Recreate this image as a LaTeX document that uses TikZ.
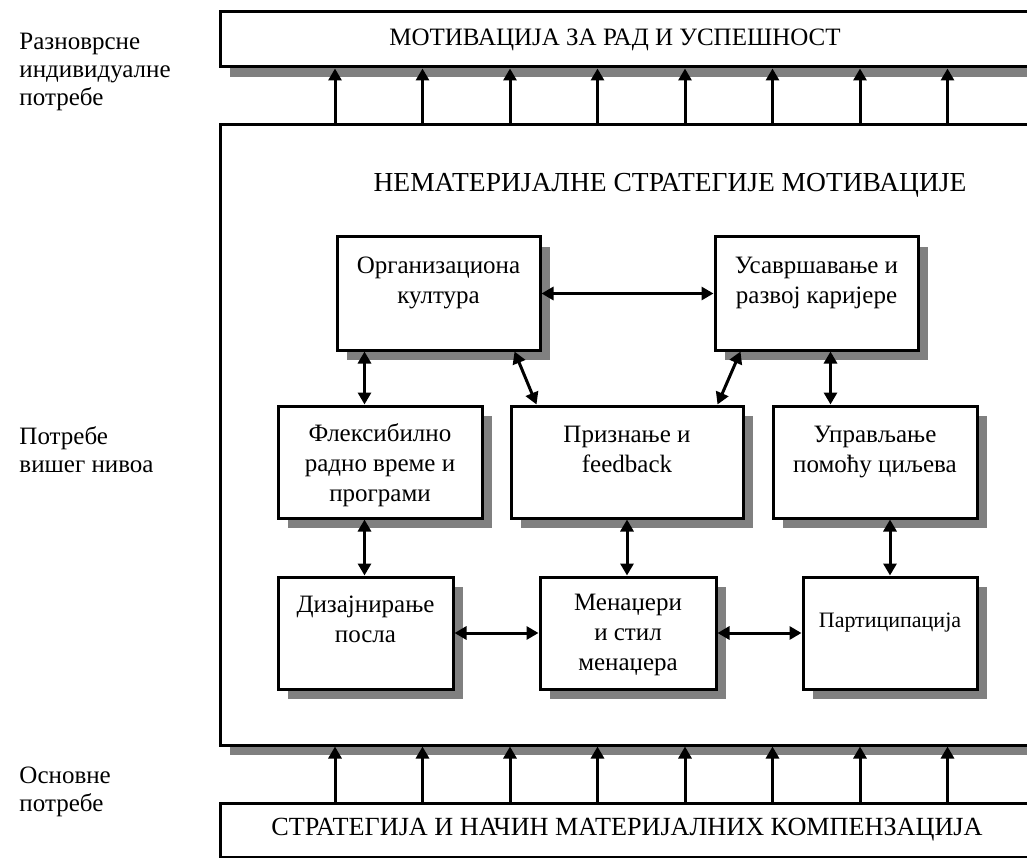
\documentclass[tikz,border=0pt]{standalone}
\usepackage{fontspec}
\setmainfont{Liberation Serif}
\usetikzlibrary{positioning,shadows,arrows.meta}

\begin{document}
\begin{tikzpicture}[>={Triangle[length=12pt,width=13pt]},line width=3pt,x=1pt,y=-1pt]
                \tikzstyle{every node}=[font=\fontsize{25}{30}\selectfont,inner sep=0pt]
                \tikzstyle{box}=[draw,fill=white,drop shadow={shadow xshift=10pt,shadow yshift=-10pt,fill=gray,opacity=1}]
                \tikzstyle{txt}=[align=center]
                \tikzstyle{side}=[align=left,anchor=north west,font=\fontsize{25}{28}\selectfont]
                \useasboundingbox (0,0) rectangle (1027,858);
                \clip (0,0) rectangle (1027,858);
                % big frames
                \node[box,minimum width=820pt,minimum height=55pt] (mot) at (630,39.5) {};
                \node[box,minimum width=820pt,minimum height=620pt] (nemat) at (630,435) {};
                \node[box,minimum width=820pt,minimum height=54pt] (strat) at (630,830) {};
                \node (mott) at (615,40) {МОТИВАЦИЈА ЗА РАД И УСПЕШНОСТ};
                \node[font=\fontsize{27.5}{30}\selectfont] (nematt) at (670,185) {НЕМАТЕРИЈАЛНЕ СТРАТЕГИЈЕ МОТИВАЦИЈЕ};
                \node[font=\fontsize{26.2}{30}\selectfont] (stratt) at (627,830) {СТРАТЕГИЈА И НАЧИН МАТЕРИЈАЛНИХ КОМПЕНЗАЦИЈА};
                \foreach \x in {335,422.5,...,947.5}
                    {
                        \coordinate (c) at (\x,0);
                        \draw[->] (nemat.north -| c)--(mot.south -| c);
                        \draw[->] (strat.north -| c)--(nemat.south -| c);
                    }
                % inner boxes
                \node[box,minimum width=203pt,minimum height=113pt] (org) at (438.5,293.5) {};
                \node[box,minimum width=203pt,minimum height=113pt] (usav) at (816.5,293.5) {};
                \node[box,minimum width=204pt,minimum height=112pt] (flex) at (380,462) {};
                \node[box,minimum width=232pt,minimum height=112pt] (priz) at (627,462) {};
                \node[box,minimum width=204pt,minimum height=112pt] (uprav) at (875,462) {};
                \node[box,minimum width=175pt,minimum height=112pt] (diz) at (365.5,633) {};
                \node[box,minimum width=176pt,minimum height=112pt] (men) at (628,633) {};
                \node[box,minimum width=174pt,minimum height=112pt] (part) at (890,633) {};
                \node[txt,below=20pt of org.north] (orgt) {Организациона\\култура};
                \node[txt,below=20pt of usav.north] (usavt) {Усавршавање и\\развој каријере};
                \node[txt,below=18pt of flex.north] (flext) {Флексибилно\\радно време и\\програми};
                \node[txt,below=20pt of priz.north] (prizt) {Признање и\\feedback};
                \node[txt,below=20pt of uprav.north] (upravt) {Управљање\\помоћу циљева};
                \node[txt,below=19pt of diz.north] (dizt) {Дизајнирање\\посла};
                \node[txt,below=17pt of men.north] (ment) {Менаџери\\и стил\\менаџера};
                \node[font=\fontsize{22}{26}\selectfont] (partt) at ([yshift=10pt]part.center) {Партиципација};
                % connectors
                \draw[<->] (org.east)--(usav.west);
                \draw[<->] ([xshift=29pt]org.south west)--([xshift=29pt]org.south west |- flex.north);
                \draw[<->] ([xshift=-27pt]org.south east)--([xshift=27pt]priz.north west);
                \draw[<->] ([xshift=27pt]usav.south west)--([xshift=-27pt]priz.north east);
                \draw[<->] ([xshift=117pt]usav.south west)--([xshift=117pt]usav.south west |- uprav.north);
                \draw[<->] ([xshift=88pt]flex.south west)--([xshift=88pt]flex.south west |- diz.north);
                \draw[<->] (priz.south)--(priz.south |- men.north);
                \draw[<->] (part.north)--(part.north |- uprav.south);
                \draw[<->] (diz.east)--(men.west);
                \draw[<->] (men.east)--(part.west);
                % side labels
                \node[side] (rtxt) at (18,32) {Разноврсне\\индивидуалне\\потребе};
                \node[side] (vtxt) at (18,425) {Потребе\\вишег нивоа};
                \node[side] (otxt) at (18,765) {Основне\\потребе};
            \end{tikzpicture}
\end{document}
